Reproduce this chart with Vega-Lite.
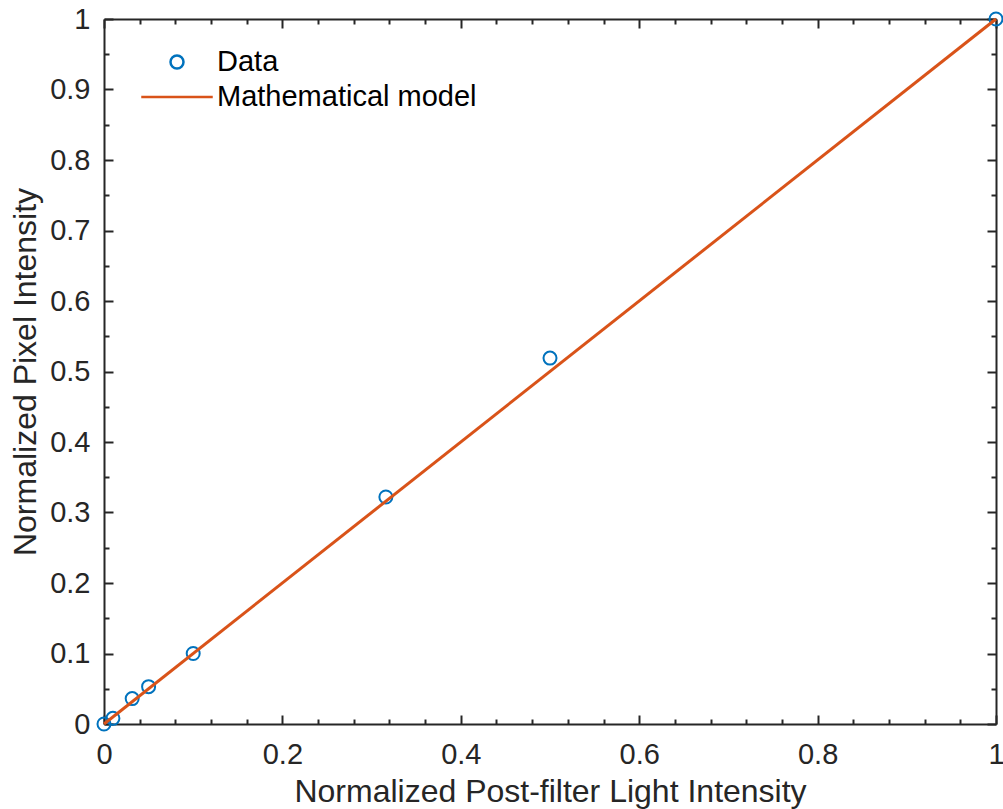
{
  "$schema": "https://vega.github.io/schema/vega-lite/v6.json",
  "width": 892,
  "height": 705,
  "autosize": "none",
  "padding": {"left": 104, "top": 19, "right": 7, "bottom": 85},
  "background": "white",
  "config": {
    "view": {"stroke": null},
    "font": "Liberation Sans",
    "axis": {
      "grid": false,
      "domainColor": "#262626",
      "domainWidth": 2,
      "tickColor": "#262626",
      "tickWidth": 2,
      "labelFont": "Liberation Sans",
      "labelFontSize": 29,
      "labelColor": "#262626",
      "labelOverlap": false,
      "labelFlush": false,
      "titleFont": "Liberation Sans",
      "titleFontSize": 32,
      "titleFontWeight": "normal",
      "titleColor": "#262626"
    },
    "legend": {
      "orient": "none", "legendX": 58.5, "legendY": 28.5, "title": null,
      "labelFont": "Liberation Sans", "labelFontSize": 29, "labelColor": "#000000", "labelLimit": 0,
      "symbolSize": 169, "symbolStrokeWidth": 2.5, "labelOffset": 25.5, "rowPadding": 5, "padding": 0
    }
  },
  "layer": [
    {
      "data": {"values": [
        {"x": 0, "y": 0, "series": "Data"},
        {"x": 0.01, "y": 0.008, "series": "Data"},
        {"x": 0.0316, "y": 0.036, "series": "Data"},
        {"x": 0.05, "y": 0.053, "series": "Data"},
        {"x": 0.1, "y": 0.1, "series": "Data"},
        {"x": 0.316, "y": 0.322, "series": "Data"},
        {"x": 0.5, "y": 0.519, "series": "Data"},
        {"x": 1, "y": 1, "series": "Data"}
      ]},
      "mark": {"type": "point", "filled": false, "size": 169, "strokeWidth": 2, "opacity": 1},
      "encoding": {
        "x": {"field": "x", "type": "quantitative",
          "scale": {"domain": [0, 1], "nice": false, "zero": false},
          "axis": {"orient": "top", "title": null, "labels": false,
            "values": [0,0.04,0.08,0.12,0.16,0.2,0.24,0.28,0.32,0.36,0.4,0.44,0.48,0.52,0.56,0.6,0.64,0.68,0.72,0.76,0.8,0.84,0.88,0.92,0.96,1],
            "tickSize": {"condition": {"test": "abs(datum.value*5-round(datum.value*5))<0.001", "value": -9}, "value": -5}}},
        "y": {"field": "y", "type": "quantitative",
          "scale": {"domain": [0, 1], "nice": false, "zero": false},
          "axis": {"orient": "right", "title": null, "labels": false,
            "values": [0,0.05,0.1,0.15,0.2,0.25,0.3,0.35,0.4,0.45,0.5,0.55,0.6,0.65,0.7,0.75,0.8,0.85,0.9,0.95,1],
            "tickSize": {"condition": {"test": "abs(datum.value*10-round(datum.value*10))<0.001", "value": -9}, "value": -5}}},
        "color": {"field": "series", "type": "nominal", "title": null,
          "scale": {"domain": ["Data", "Mathematical model"], "range": ["#0072BD", "#D95319"]}},
        "shape": {"field": "series", "type": "nominal", "title": null,
          "scale": {"domain": ["Data", "Mathematical model"], "range": ["circle", "M-5.5,0H5.5"]}}
      }
    },
    {
      "data": {"values": [
        {"x": 0, "y": 0, "series": "Mathematical model"},
        {"x": 1, "y": 1, "series": "Mathematical model"}
      ]},
      "mark": {"type": "line", "strokeWidth": 3},
      "encoding": {
        "x": {"field": "x", "type": "quantitative",
          "scale": {"domain": [0, 1], "nice": false, "zero": false},
          "axis": {"orient": "bottom", "title": "Normalized Post-filter Light Intensity",
            "values": [0,0.04,0.08,0.12,0.16,0.2,0.24,0.28,0.32,0.36,0.4,0.44,0.48,0.52,0.56,0.6,0.64,0.68,0.72,0.76,0.8,0.84,0.88,0.92,0.96,1],
            "labelExpr": "abs(datum.value*5-round(datum.value*5))<0.001 ? '' + (round(datum.value*10)/10) : ''",
            "labelPadding": 25, "titlePadding": 3,
            "tickSize": {"condition": {"test": "abs(datum.value*5-round(datum.value*5))<0.001", "value": -9}, "value": -5}}},
        "y": {"field": "y", "type": "quantitative",
          "scale": {"domain": [0, 1], "nice": false, "zero": false},
          "axis": {"orient": "left", "title": "Normalized Pixel Intensity",
            "values": [0,0.05,0.1,0.15,0.2,0.25,0.3,0.35,0.4,0.45,0.5,0.55,0.6,0.65,0.7,0.75,0.8,0.85,0.9,0.95,1],
            "labelExpr": "abs(datum.value*10-round(datum.value*10))<0.001 ? '' + (round(datum.value*10)/10) : ''",
            "labelPadding": 23, "titlePadding": 7,
            "tickSize": {"condition": {"test": "abs(datum.value*10-round(datum.value*10))<0.001", "value": -9}, "value": -5}}},
        "color": {"field": "series", "type": "nominal", "title": null,
          "scale": {"domain": ["Data", "Mathematical model"], "range": ["#0072BD", "#D95319"]}}
      }
    }
  ],
  "resolve": {"axis": {"x": "independent", "y": "independent"}}
}
